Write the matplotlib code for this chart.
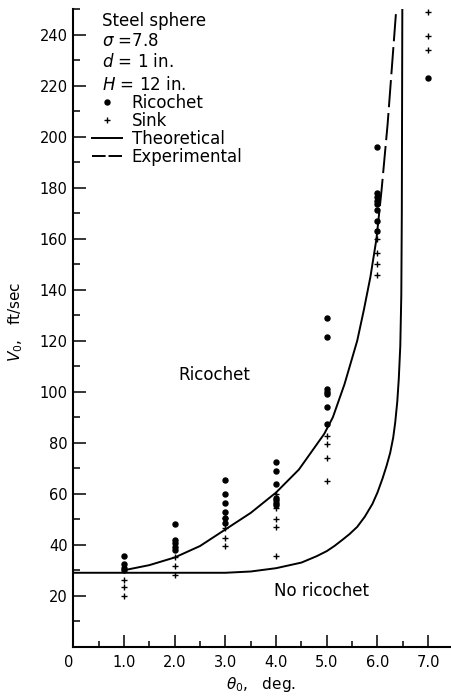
import matplotlib.pyplot as plt
from matplotlib.lines import Line2D
from matplotlib.ticker import FixedLocator, MultipleLocator

# data (theta0 in deg, V0 in ft/sec)
ric_theta = [1.0, 1.0, 1.0, 1.0,
             2.0, 2.0, 2.0, 2.0, 2.0,
             3.0, 3.0, 3.0, 3.0, 3.0, 3.0,
             4.0, 4.0, 4.0, 4.0, 4.0, 4.0, 4.0,
             5.0, 5.0, 5.0, 5.0, 5.0, 5.0, 5.0,
             6.0, 6.0, 6.0, 6.0, 6.0, 6.0, 6.0, 6.0,
             7.0]
ric_v = [35.5, 32.5, 31, 30,
         48, 42, 40.5, 39, 38,
         65.5, 60, 56.5, 53, 50.5, 48.5,
         72.5, 69, 64, 58.5, 57.5, 56.5, 55.5,
         129, 121.5, 101, 100, 99, 94, 87.5,
         196, 178, 176.5, 175, 173.5, 171.5, 167, 163,
         223]

sink_theta = [1.0, 1.0, 1.0,
              2.0, 2.0, 2.0,
              3.0, 3.0, 3.0, 3.0,
              4.0, 4.0, 4.0, 4.0, 4.0,
              5.0, 5.0, 5.0, 5.0,
              6.0, 6.0, 6.0, 6.0,
              7.0, 7.0, 7.0]
sink_v = [26, 23.5, 20,
          35, 31.5, 28,
          50.5, 46.5, 42.5, 39.5,
          60, 54.5, 50, 47, 35.5,
          82.5, 79.5, 74, 65,
          160, 154.5, 150, 146,
          249, 239.5, 234]

theo_theta = [0, 1, 2, 3, 3.5, 4.0, 4.5, 4.8, 5.0, 5.15, 5.3, 5.45, 5.6, 5.75, 5.9, 6.0,
              6.1, 6.18, 6.25, 6.31, 6.35, 6.39, 6.42, 6.45, 6.47, 6.48, 6.49]
theo_v = [29, 29, 29, 29, 29.5, 30.8, 33, 35.5, 37.5, 39.5, 41.8, 44.2, 47, 51, 56, 60.5,
          66, 71, 76, 82, 88, 96, 105, 118, 138, 170, 250]

exp_theta = [1.0, 1.5, 2.0, 2.5, 3.0, 3.5, 4.0, 4.45, 4.95, 5.12, 5.35, 5.6, 5.73, 5.86, 5.98, 6.08, 6.2, 6.37]
exp_v = [30, 32, 35, 39.5, 46, 52.5, 60.5, 69.5, 83.5, 90, 103, 120, 132, 145, 160, 179, 205, 250]
exp_dash_from = 14  # curve is drawn dashed above this point

x_ticks = [0, 1, 2, 3, 4, 5, 6, 7]
x_labels = ['0', '1.0', '2.0', '3.0', '4.0', '5.0', '6.0', '7.0']
y_ticks = list(range(20, 241, 20))

plt.rcParams['font.family'] = 'DejaVu Sans'

fig = plt.figure(figsize=(4.52, 6.98), dpi=100)
ax = fig.add_axes([0.1622, 0.0735, 0.8378, 0.913])

lw = 1.4
ax.plot(theo_theta, theo_v, color='black', lw=lw)
ax.plot(exp_theta[:exp_dash_from + 1], exp_v[:exp_dash_from + 1], color='black', lw=lw)
ax.plot(exp_theta[exp_dash_from:], exp_v[exp_dash_from:], color='black', lw=lw,
        dashes=(14, 3))
ax.plot(ric_theta, ric_v, 'o', color='black', ms=3.6, clip_on=False)
ax.plot(sink_theta, sink_v, '+', color='black', ms=4.6, mew=1.0, clip_on=False)

ax.set_xlim(0, 7.47)
ax.set_ylim(0, 250)

ax.spines['top'].set_visible(False)
ax.spines['right'].set_visible(False)
ax.spines['left'].set_linewidth(1.5)
ax.spines['bottom'].set_linewidth(1.5)

ax.xaxis.set_major_locator(FixedLocator(x_ticks))
ax.set_xticklabels(x_labels)
ax.xaxis.set_minor_locator(MultipleLocator(0.5))
ax.yaxis.set_major_locator(FixedLocator(y_ticks))
ax.yaxis.set_minor_locator(MultipleLocator(10))
ax.tick_params(which='both', direction='in', width=1.1, labelsize=10.5)
ax.tick_params(axis='x', which='major', length=8.4, pad=6)
ax.tick_params(axis='x', which='minor', length=4.3)
ax.tick_params(axis='y', which='major', length=9.4, pad=4)
ax.tick_params(axis='y', which='minor', length=5)
ax.get_xticklabels()[0].set_ha('right')

ax.set_xlabel(r'$\theta_0$,   deg.', fontsize=11)
ax.set_ylabel(r'$V_0$,   ft/sec', fontsize=11)
ax.xaxis.set_label_coords(0.496, -0.045)
ax.yaxis.set_label_coords(-0.128, 0.51)

# region labels
ax.text(2.07, 106.6, 'Ricochet', fontsize=12, va='center')
ax.text(3.95, 21.9, 'No ricochet', fontsize=12, va='center')

# key block
header = ['Steel sphere', r'$\sigma$ =7.8', r'$d$ = 1 in.', r'$H$ = 12 in.']
header_y = [0.982, 0.951, 0.918, 0.881]
for txt, yy in zip(header, header_y):
    ax.text(0.076, yy, txt, transform=ax.transAxes, fontsize=12, va='center')

handles = [Line2D([], [], ls='none', marker='o', ms=3.6, color='black'),
           Line2D([], [], ls='none', marker='+', ms=4.6, mew=1.0, color='black'),
           Line2D([], [], color='black', lw=lw),
           Line2D([], [], color='black', lw=lw, dashes=(7, 1.5))]
ax.legend(handles, ['Ricochet', 'Sink', 'Theoretical', 'Experimental'],
          loc='upper left', bbox_to_anchor=(0.049, 0.868), frameon=False,
          fontsize=12, handlelength=1.8, handletextpad=0.6,
          labelspacing=0.0, borderpad=0, borderaxespad=0)

plt.savefig('out.png', dpi=100)
